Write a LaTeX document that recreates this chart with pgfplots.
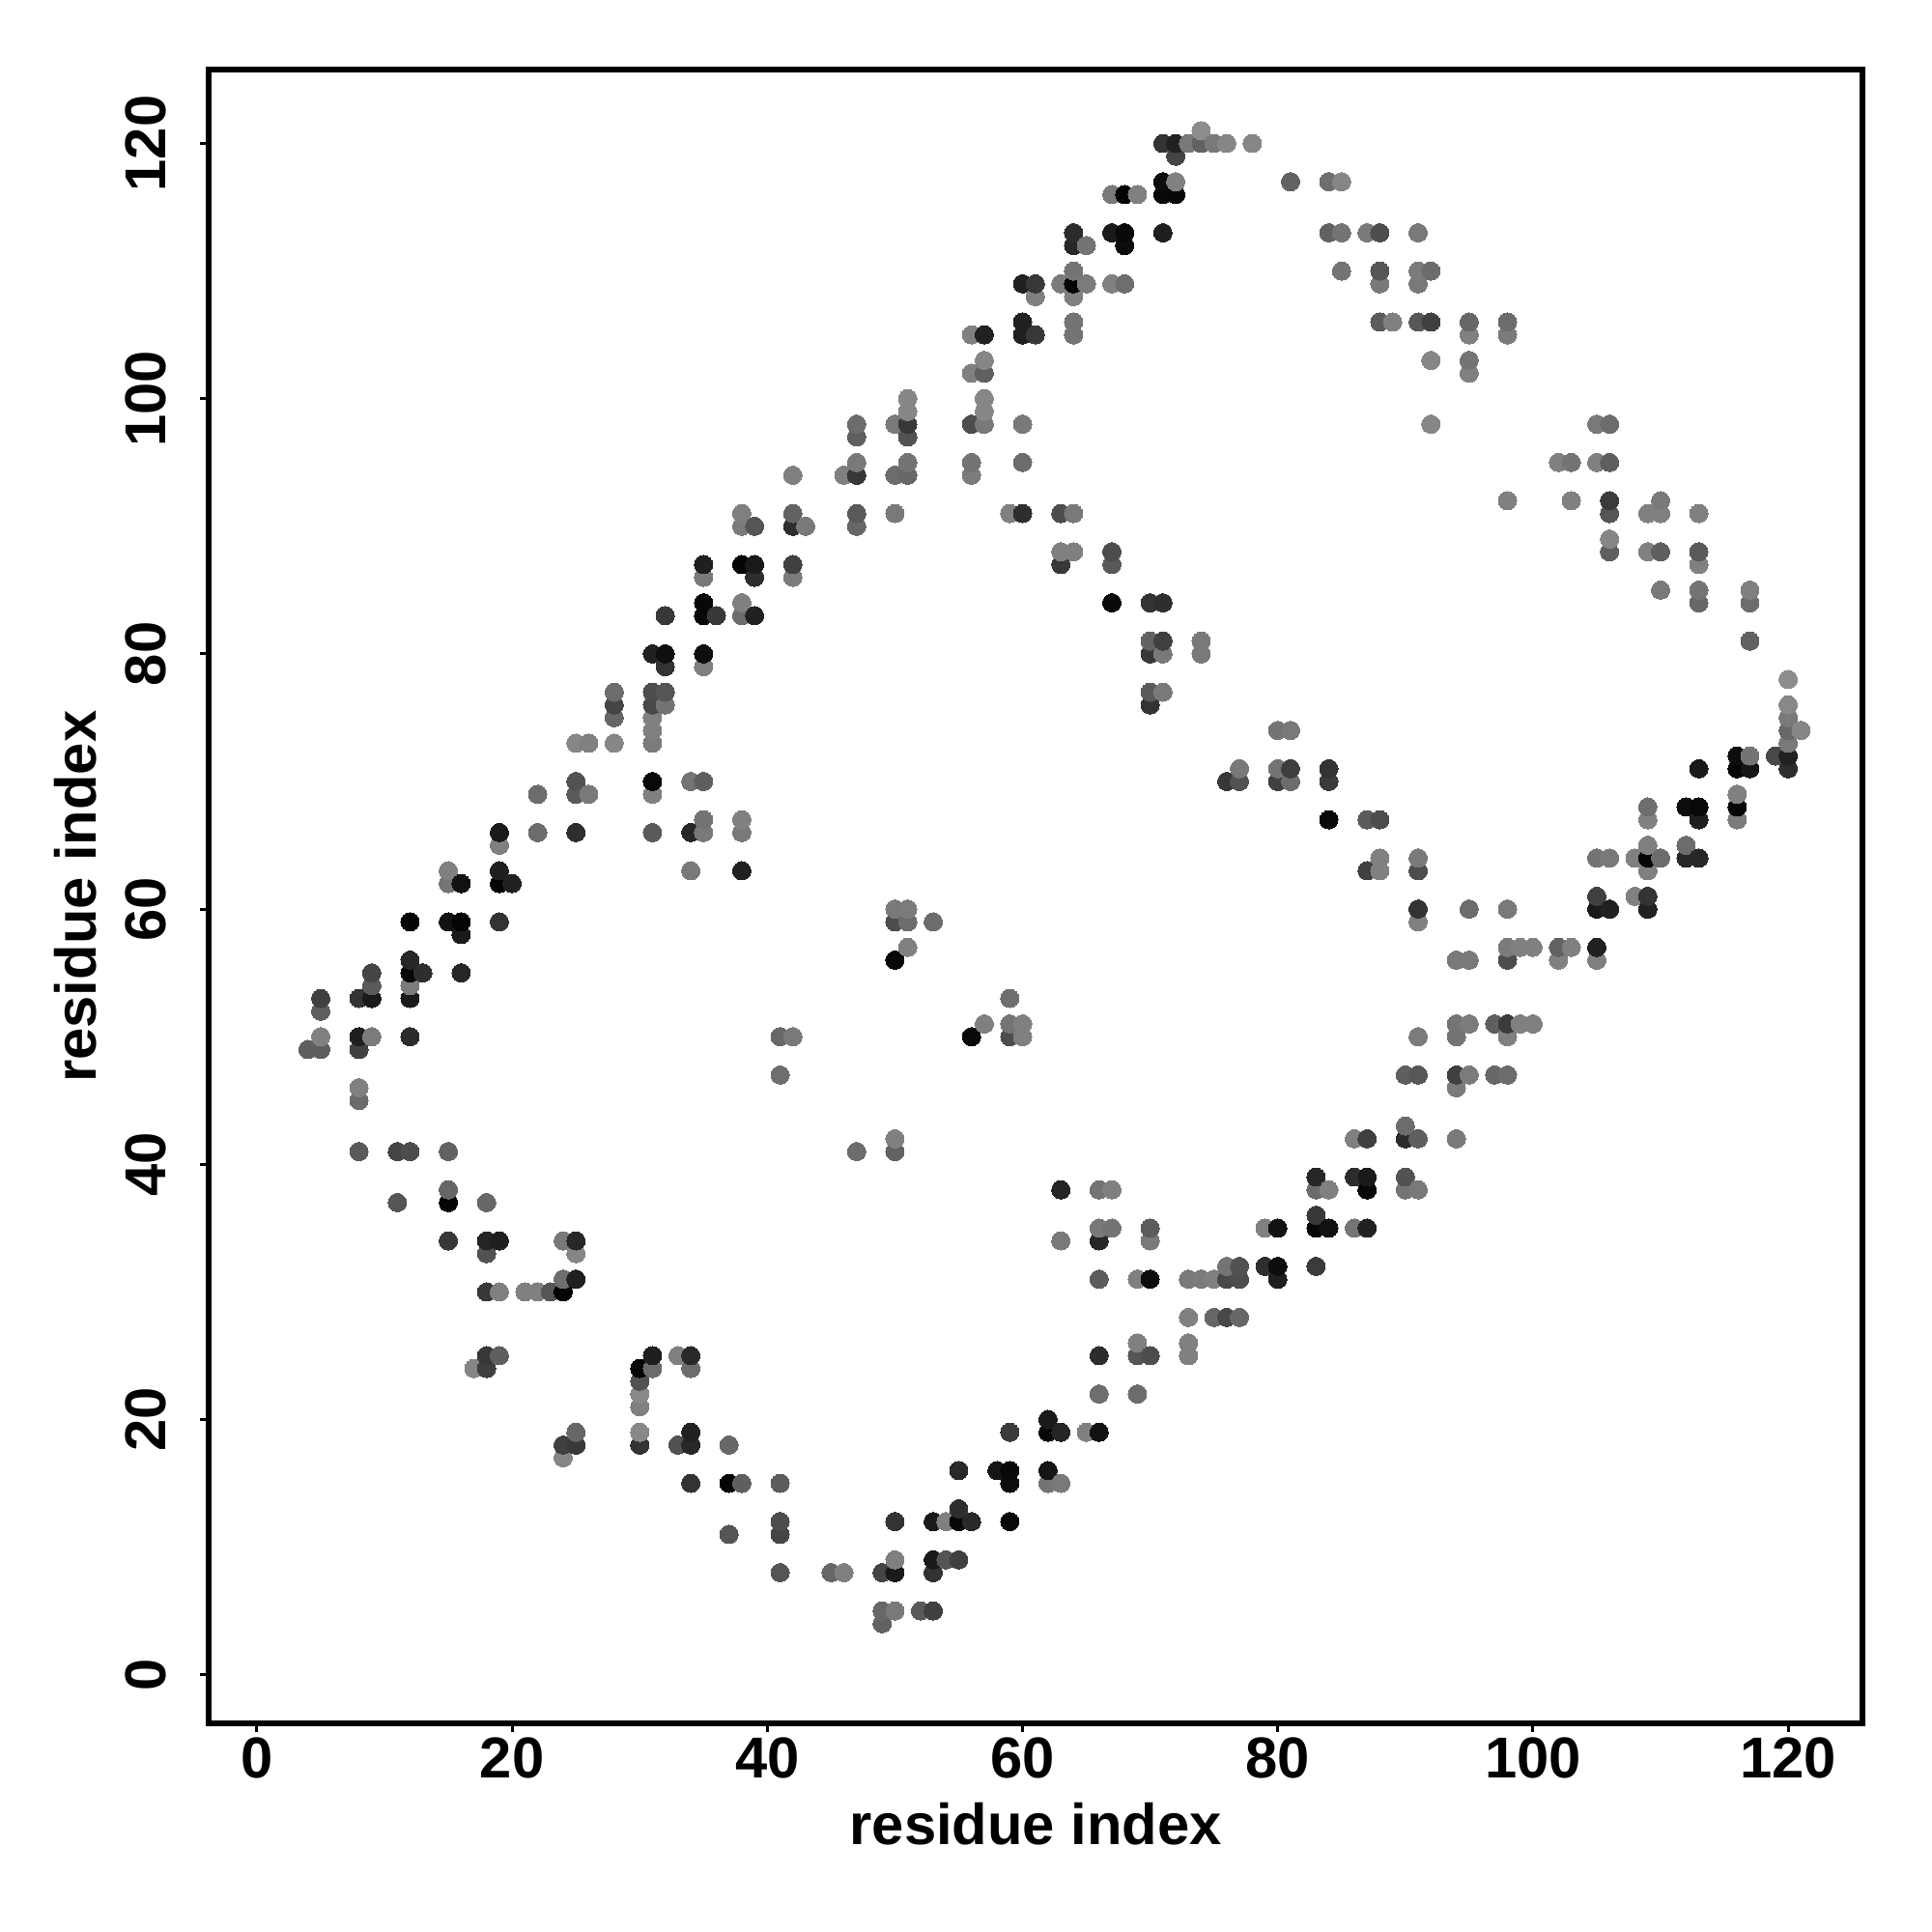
\documentclass[border=0pt]{standalone}
\usepackage{fontspec}
\setmainfont{Liberation Sans}
\usepackage{pgfplots}
\pgfplotsset{compat=1.18}
\usepackage{pgfplotstable}
\newcommand{\lab}{\fontsize{17}{20}\selectfont\bfseries}
\pgfplotstableread{
x y g
4 49 .37
5 49 .37
5 50 .5
5 52 .37
5 53 .25
8 41 .35
8 45 .42
8 46 .5
8 49 .25
8 50 .12
8 53 .2
9 50 .48
9 53 .1
9 54 .35
9 55 .27
11 37 .33
11 41 .27
12 41 .3
12 50 .17
12 53 .1
12 54 .48
12 55 .03
12 56 .15
12 59 .02
13 55 .18
15 34 .22
15 37 .02
15 38 .4
15 41 .38
15 59 .07
15 62 .45
15 63 .5
16 55 .15
16 58 .1
16 59 .02
16 62 .07
17 24 .52
18 24 .24
18 25 .22
18 30 .22
18 33 .32
18 34 .14
18 37 .4
19 25 .37
19 30 .5
19 34 .12
19 59 .2
19 62 .02
19 63 .12
19 65 .5
19 66 .1
20 62 .13
21 30 .5
22 30 .5
22 66 .42
22 69 .42
23 30 .33
24 17 .52
24 18 .25
24 30 .02
24 31 .43
24 34 .47
25 18 .22
25 19 .4
25 31 .12
25 33 .52
25 34 .15
25 66 .18
25 69 .35
25 70 .32
25 73 .52
26 69 .47
26 73 .5
28 73 .52
28 75 .4
28 76 .27
28 77 .42
30 18 .2
30 19 .53
30 21 .5
30 22 .53
30 23 .32
30 24 .02
31 24 .42
31 25 .12
31 66 .35
31 69 .5
31 70 .03
31 73 .48
31 74 .5
31 75 .5
31 76 .28
31 77 .3
31 80 .13
32 76 .45
32 77 .33
32 79 .2
32 80 .06
32 83 .22
33 18 .32
33 25 .5
34 15 .2
34 18 .15
34 19 .13
34 24 .42
34 25 .16
34 63 .47
34 66 .15
34 70 .45
35 66 .47
35 67 .45
35 70 .37
35 79 .5
35 80 .06
35 83 .03
35 84 .03
35 86 .47
35 87 .12
36 83 .22
37 11 .33
37 15 .02
37 18 .4
38 15 .37
38 63 .13
38 66 .47
38 67 .5
38 83 .42
38 84 .5
38 87 .02
38 90 .48
38 91 .5
39 83 .13
39 86 .18
39 87 .1
39 90 .33
41 8 .33
41 11 .27
41 12 .3
41 15 .36
41 47 .43
41 50 .4
42 50 .47
42 86 .48
42 87 .25
42 90 .18
42 91 .38
42 94 .5
43 90 .47
45 8 .4
46 8 .5
46 94 .5
47 41 .42
47 90 .4
47 91 .35
47 94 .22
47 95 .47
47 97 .37
47 98 .42
49 4 .38
49 5 .4
49 8 .27
50 5 .47
50 8 .1
50 9 .5
50 12 .2
50 41 .38
50 42 .5
50 56 .03
50 59 .3
50 60 .47
50 91 .47
50 94 .42
50 98 .47
51 57 .5
51 59 .42
51 60 .48
51 94 .4
51 95 .45
51 97 .32
51 98 .22
51 99 .52
51 100 .52
52 5 .35
53 5 .25
53 8 .2
53 9 .1
53 12 .1
53 59 .42
54 9 .33
54 12 .5
55 9 .25
55 12 .03
55 13 .18
55 16 .16
56 12 .16
56 50 .03
56 94 .48
56 95 .45
56 98 .3
56 102 .5
56 105 .5
57 51 .5
57 98 .47
57 99 .52
57 100 .52
57 102 .37
57 103 .52
57 105 .13
58 16 .08
59 12 .03
59 15 .05
59 16 .03
59 19 .23
59 50 .3
59 51 .45
59 53 .43
59 91 .5
60 50 .5
60 51 .5
60 91 .18
60 95 .42
60 98 .47
60 105 .12
60 106 .13
60 109 .13
61 105 .22
61 108 .5
61 109 .22
62 15 .45
62 16 .08
62 19 .03
62 20 .1
63 15 .47
63 19 .14
63 34 .47
63 38 .14
63 87 .22
63 88 .5
63 91 .3
63 109 .48
64 88 .5
64 91 .47
64 105 .45
64 106 .45
64 108 .5
64 109 .02
64 110 .45
64 112 .15
64 113 .17
65 19 .5
65 109 .48
65 112 .45
66 19 .07
66 22 .43
66 25 .17
66 31 .36
66 34 .15
66 35 .47
66 38 .45
67 35 .45
67 38 .5
67 84 .03
67 87 .35
67 88 .3
67 109 .5
67 113 .1
67 116 .47
68 109 .43
68 112 .05
68 113 .03
68 116 .02
69 22 .42
69 25 .33
69 26 .5
69 31 .5
69 116 .5
70 25 .3
70 31 .05
70 34 .47
70 35 .36
70 76 .2
70 77 .35
70 80 .22
70 81 .38
70 84 .2
71 77 .47
71 80 .47
71 81 .25
71 84 .18
71 113 .12
71 116 .03
71 117 .05
71 120 .2
72 116 .03
72 117 .5
72 119 .27
72 120 .13
73 25 .5
73 26 .5
73 28 .5
73 31 .47
73 120 .47
74 31 .48
74 80 .47
74 81 .47
74 120 .38
74 121 .55
75 28 .4
75 31 .5
75 120 .47
76 28 .28
76 31 .28
76 32 .45
76 70 .22
76 120 .52
77 28 .4
77 31 .3
77 32 .32
77 70 .32
77 71 .47
78 120 .52
79 32 .18
79 35 .5
80 31 .12
80 32 .05
80 35 .07
80 70 .25
80 71 .45
80 74 .45
81 70 .42
81 71 .24
81 74 .47
81 117 .38
83 32 .23
83 35 .03
83 36 .22
83 38 .42
83 39 .15
84 35 .07
84 38 .5
84 67 .03
84 70 .23
84 71 .2
84 113 .38
84 117 .43
85 110 .45
85 113 .45
85 117 .52
86 35 .45
86 39 .17
86 42 .5
87 35 .13
87 38 .03
87 39 .1
87 42 .25
87 63 .25
87 67 .35
87 113 .47
88 63 .5
88 64 .5
88 67 .3
88 106 .36
88 109 .47
88 110 .33
88 113 .3
89 106 .5
90 38 .45
90 39 .32
90 42 .17
90 43 .42
90 47 .37
91 38 .47
91 42 .37
91 47 .34
91 50 .48
91 59 .5
91 60 .2
91 63 .3
91 64 .47
91 106 .34
91 109 .47
91 110 .48
91 113 .47
92 98 .52
92 103 .52
92 106 .25
92 110 .42
94 42 .47
94 46 .48
94 47 .25
94 50 .45
94 51 .45
94 56 .47
95 47 .48
95 51 .48
95 56 .47
95 60 .42
95 102 .5
95 103 .45
95 105 .5
95 106 .4
97 47 .4
97 51 .37
98 47 .42
98 50 .5
98 51 .23
98 56 .3
98 57 .48
98 60 .47
98 92 .5
98 105 .48
98 106 .42
99 51 .5
99 57 .5
100 51 .5
100 57 .5
102 56 .5
102 57 .38
102 95 .5
103 57 .5
103 92 .5
103 95 .45
105 56 .5
105 57 .13
105 60 .1
105 61 .25
105 64 .45
105 95 .5
105 98 .47
106 60 .13
106 64 .47
106 88 .37
106 89 .52
106 91 .33
106 92 .23
106 95 .37
106 98 .42
108 61 .5
108 64 .5
109 60 .13
109 61 .2
109 63 .5
109 64 .02
109 65 .5
109 67 .5
109 68 .43
109 88 .5
109 91 .5
110 64 .42
110 85 .47
110 88 .37
110 91 .5
110 92 .47
112 64 .15
112 65 .42
112 68 .05
113 64 .15
113 67 .12
113 68 .03
113 71 .1
113 84 .4
113 85 .45
113 87 .5
113 88 .35
113 91 .5
116 67 .48
116 68 .02
116 69 .5
116 71 .02
116 72 .05
117 71 .08
117 72 .45
117 81 .38
117 84 .42
117 85 .5
119 72 .28
120 71 .18
120 72 .13
120 73 .47
120 74 .4
120 75 .47
120 76 .53
120 78 .55
121 74 .52
}\contacts
\begin{document}
\begin{tikzpicture}
\useasboundingbox (-2.163,-2.16) rectangle (17.837,17.84);
\begin{axis}[
  at={(0,0)},anchor=south west,
  scale only axis,width=17.117cm,height=17.117cm,
  xmin=-3.76,xmax=125.82,ymin=-3.81,ymax=125.77,
  axis line style={line width=.06cm},
  tick align=outside,major tick length=.09cm,
  tick style={line width=.03cm,black},
  xtick={0,20,...,120},ytick={0,20,...,120},
  xtick pos=bottom,ytick pos=left,
  /pgf/number format/assume math mode=true,
  tick label style={font=\lab,inner sep=0pt},
  xticklabel style={anchor=base,yshift=-.47cm},
  yticklabel style={xshift=-.36cm,rotate=90,anchor=base},
  xlabel={residue index},ylabel={residue index},
  every axis x label/.style={at={(axis description cs:0.5,0)},anchor=base,yshift=-1.256cm,font=\lab,inner sep=0pt},
  every axis y label/.style={at={(axis description cs:0,0.5)},xshift=-1.17cm,rotate=90,anchor=base,font=\lab,inner sep=0pt},
  colormap={bw}{gray(0cm)=(0); gray(1cm)=(1)},
  point meta min=0,point meta max=1,
]
\addplot[scatter,only marks,mark=*,mark size=2.7pt,
  scatter/use mapped color={draw=mapped color,fill=mapped color},
  mark options={line width=0pt},
  point meta=explicit]
  table[x=x,y=y,meta=g] {\contacts};
\end{axis}
\end{tikzpicture}
\end{document}
